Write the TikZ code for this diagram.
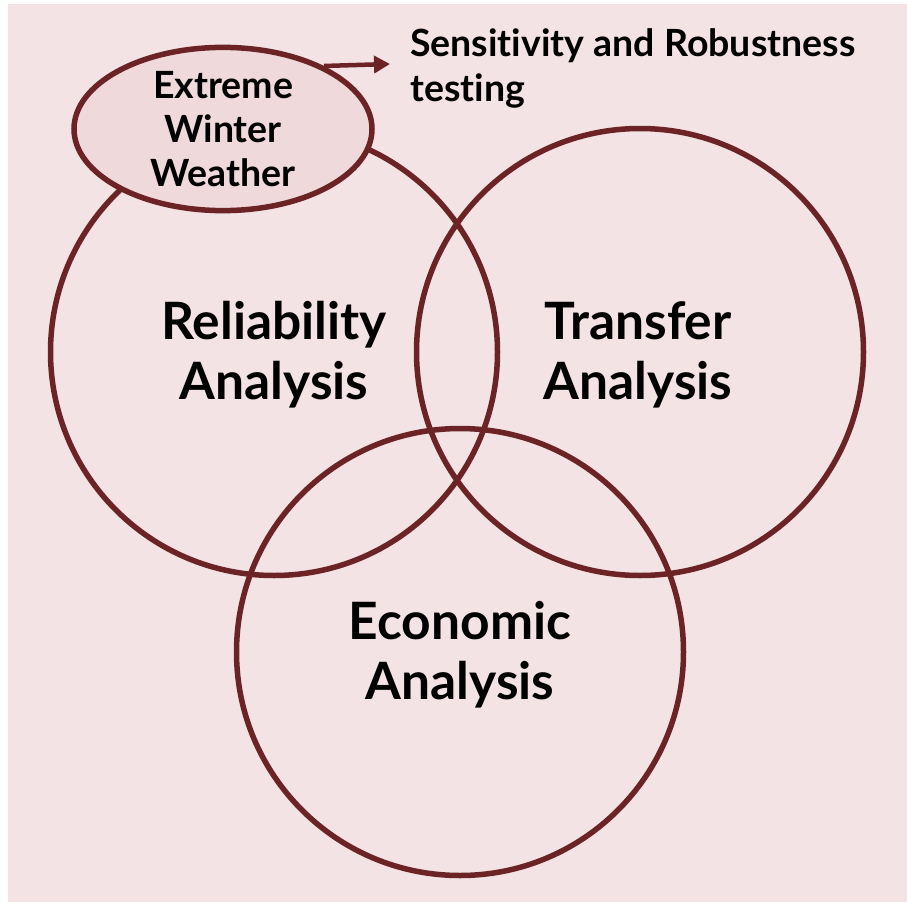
\documentclass[tikz,border=0pt]{standalone}
\usepackage{fontspec}
\setmainfont{Lato}[UprightFont=* Bold, Ligatures=NoCommon]
\usetikzlibrary{shapes.geometric,arrows.meta}
\definecolor{bgpink}{HTML}{F4E3E4}
\definecolor{fillpink}{HTML}{F0D9DA}
\definecolor{wine}{HTML}{6B2325}
\tikzset{
  area/.style={circle, draw=wine, line width=5.5pt, minimum size=447pt, inner sep=0pt},
  arealabel/.style={align=center, inner sep=0pt, font=\fontsize{51.5}{60}\selectfont},
  hazard/.style={ellipse, draw=wine, fill=fillpink, line width=5.5pt, minimum width=298pt,
    minimum height=161pt, inner sep=0pt, align=center, font=\fontsize{37.5}{44}\selectfont},
  note/.style={align=left, anchor=north west, inner sep=0pt, font=\fontsize{37.5}{45}\selectfont},
  link/.style={draw=wine, line width=4.5pt, -{Triangle[length=16pt,width=17pt]}}
}
\begin{document}
\begin{tikzpicture}[x=1pt,y=-1pt]
  \useasboundingbox[fill=white] (0,0) rectangle (907,902);
  \fill[bgpink] (8,4) rectangle (907,902);
  % the three analysis areas
  \node[area] (rel) at (274,352) {};
  \node[area] (tra) at (640,352) {};
  \node[area] (eco) at (460,652) {};
  \node[arealabel] (relt) at (274,355) {Reliability\\Analysis};
  \node[arealabel] (trat) at (638,355) {Transfer\\Analysis};
  \node[arealabel] (ecot) at (460,655) {Economic\\Analysis};
  % hazard scenario on top
  \node[hazard] (ext) at (223,129) {Extreme\\Winter\\Weather};
  \node[note] (sens) at (410,28) {Sensitivity and Robustness\\testing};
  \coordinate (tip) at (390,64);
  \draw[link] (ext.32) -- (tip);
\end{tikzpicture}
\end{document}
